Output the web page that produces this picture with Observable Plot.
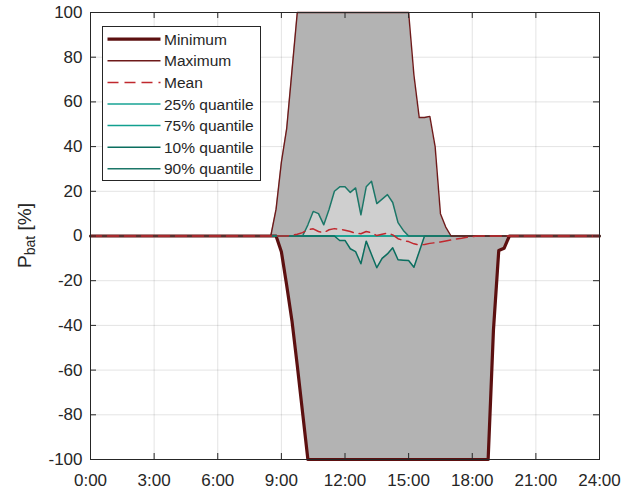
<!DOCTYPE html>
<html><head><meta charset="utf-8">
<script src="https://cdn.jsdelivr.net/npm/d3@7"></script>
<script src="https://cdn.jsdelivr.net/npm/@observablehq/plot@0.6"></script>
<style>body{margin:0;background:#fff}</style>
</head><body><div id="chart"></div>
<script>
// Tick positions and labels
const xTicks = [0, 3, 6, 9, 12, 15, 18, 21, 24];
const xTickLabels = ["0:00", "3:00", "6:00", "9:00", "12:00", "15:00", "18:00", "21:00", "24:00"];
const yTicks = [-100, -80, -60, -40, -20, 0, 20, 40, 60, 80, 100];

// Maximum
const maxHours  = [0, 8.5, 8.75, 9.0, 9.25, 9.5, 9.75, 15.0, 15.25, 15.5, 15.75, 16.0, 16.25, 16.5, 16.75, 17.0, 24];
const maxValues = [0, 0, 12, 33, 48, 74, 100, 100, 72, 53, 53, 53.5, 40, 10, 4, 0, 0];

// Minimum
const minHours  = [0, 8.75, 9.0, 9.25, 9.5, 9.75, 10.0, 10.25, 18.75, 19.0, 19.25, 19.5, 19.75, 24];
const minValues = [0, 0, -7, -22, -38, -58, -79, -100, -100, -42, -6.5, -5.5, 0, 0];

// Mean
const meanHours  = [0, 9.0, 9.25, 9.5, 9.75, 10.0, 10.25, 10.5, 10.75, 11.0, 11.25, 11.5, 11.75, 12.0, 12.25, 12.5, 12.75, 13.0, 13.25, 13.5, 13.75, 14.0, 14.25, 14.5, 14.75, 15.0, 15.25, 15.5, 15.75, 16.0, 16.25, 16.5, 16.75, 17.0, 17.25, 17.5, 17.75, 18.0, 18.25, 24];
const meanValues = [0, 0, 0, 0.3, 0.8, 1.5, 2.8, 3.2, 2, 1.5, 2.8, 3.3, 3, 2.6, 2, 1.2, 1, 2, 1.5, 0.2, 0.8, 1.3, 0.5, -1.2, -2, -2.5, -3.5, -4, -3.8, -3.3, -3, -2.7, -2.2, -1.8, -1.3, -1, -0.6, -0.3, 0, 0];

// 25% and 75% quantiles
const q25Hours  = [0, 24];
const q25Values = [0, 0];
const q75Hours  = [0, 24];
const q75Values = [0, 0];

// 10% quantile
const q10Hours  = [0, 11.5, 11.75, 12.0, 12.25, 12.5, 12.75, 13.0, 13.25, 13.5, 13.75, 14.0, 14.25, 14.5, 14.75, 15.0, 15.25, 15.5, 15.75, 24];
const q10Values = [0, 0, -2, -2, -5.7, -7, -12.4, -2.3, -8.3, -14.2, -10, -8, -5.3, -10.6, -10.8, -11, -14, -7, 0, 0];

// 90% quantile
const q90Hours  = [0, 10.0, 10.25, 10.5, 10.75, 11.0, 11.25, 11.5, 11.75, 12.0, 12.25, 12.5, 12.75, 13.0, 13.25, 13.5, 13.75, 14.0, 14.25, 14.5, 14.75, 15.0, 24];
const q90Values = [0, 0, 5, 11, 10, 5, 12, 20, 22, 22, 19.5, 21.5, 9.5, 22, 24.5, 14.5, 16.5, 18.5, 15, 6, 2.5, 0, 0];

const rows = (hs, vs) => hs.map((h, i) => ({h, v: vs[i]}));
const maxRows = rows(maxHours, maxValues);
const minRows = rows(minHours, minValues);
const meanRows = rows(meanHours, meanValues);
const q25Rows = rows(q25Hours, q25Values);
const q75Rows = rows(q75Hours, q75Values);
const q10Rows = rows(q10Hours, q10Values);
const q90Rows = rows(q90Hours, q90Values);

const W = 632, H = 489, mL = 90, mR = 33, mT = 12, mB = 30;
const plotW = W - mL - mR, plotH = H - mT - mB, tickLen = 6;
const ink = "#262626";
const colors = {
  min: "#5c1010", max: "#6e1a1a", mean: "#c0282e",
  q25: "#17a394", q75: "#12a08f", q10: "#0b6e5f", q90: "#1c7768"
};
const outer = "#b3b3b3", inner = "#cfcfcf";

const svg = Plot.plot({
  width: W, height: H,
  marginLeft: mL, marginRight: mR, marginTop: mT, marginBottom: mB,
  x: {domain: [0, 24], label: null},
  y: {domain: [-100, 100], label: null},
  style: {fontFamily: "'Liberation Sans', Arial, sans-serif", fontSize: "17px", color: ink, background: "#fff"},
  marks: [
    Plot.gridX(xTicks, {stroke: "#000", strokeOpacity: 0.11}),
    Plot.gridY(yTicks, {stroke: "#000", strokeOpacity: 0.11}),
    Plot.areaY(maxRows, {x: "h", y1: 0, y2: "v", fill: outer}),
    Plot.areaY(minRows, {x: "h", y1: "v", y2: 0, fill: outer}),
    Plot.areaY(q90Rows, {x: "h", y1: 0, y2: "v", fill: inner}),
    Plot.areaY(q10Rows, {x: "h", y1: "v", y2: 0, fill: inner}),
    Plot.line(minRows, {x: "h", y: "v", stroke: colors.min, strokeWidth: 3.2}),
    Plot.line(q25Rows, {x: "h", y: "v", stroke: colors.q25, strokeWidth: 1.5}),
    Plot.line(q75Rows, {x: "h", y: "v", stroke: colors.q75, strokeWidth: 1.5}),
    Plot.line(q10Rows, {x: "h", y: "v", stroke: colors.q10, strokeWidth: 1.5}),
    Plot.line(q90Rows, {x: "h", y: "v", stroke: colors.q90, strokeWidth: 1.5}),
    Plot.line(maxRows, {x: "h", y: "v", stroke: colors.max, strokeWidth: 1.4}),
    Plot.line(meanRows, {x: "h", y: "v", stroke: colors.mean, strokeWidth: 1.5, strokeDasharray: "11,6"}),
    Plot.frame({stroke: ink}),
    Plot.tickX(xTicks, {x: d => d, insetTop: plotH - tickLen, stroke: ink}),
    Plot.tickX(xTicks, {x: d => d, insetBottom: plotH - tickLen, stroke: ink}),
    Plot.tickY(yTicks, {y: d => d, insetRight: plotW - tickLen, stroke: ink}),
    Plot.tickY(yTicks, {y: d => d, insetLeft: plotW - tickLen, stroke: ink}),
    Plot.axisX(xTicks, {tickFormat: d => xTickLabels[xTicks.indexOf(d)], tickSize: 0, tickPadding: 14, label: null, fill: ink}),
    Plot.axisY(yTicks, {tickFormat: d => String(d), tickSize: 0, tickPadding: 8, label: null, fill: ink})
  ]
});

const s = d3.select(svg);

// Y axis label with subscript
const yl = s.append("text")
  .attr("transform", `translate(31,${mT + plotH / 2}) rotate(-90)`)
  .attr("text-anchor", "middle")
  .attr("fill", ink)
  .style("font-size", "19px");
yl.append("tspan").text("P");
yl.append("tspan").attr("dy", 4).style("font-size", "14px").text("bat");
yl.append("tspan").attr("dy", -4).text(" [%]");

// Legend
const legendItems = [
  {label: "Minimum", color: colors.min, width: 3.2, dash: null},
  {label: "Maximum", color: colors.max, width: 1.4, dash: null},
  {label: "Mean", color: colors.mean, width: 1.5, dash: "11,6"},
  {label: "25% quantile", color: colors.q25, width: 1.5, dash: null},
  {label: "75% quantile", color: colors.q75, width: 1.5, dash: null},
  {label: "10% quantile", color: colors.q10, width: 1.5, dash: null},
  {label: "90% quantile", color: colors.q90, width: 1.5, dash: null}
];
const lg = s.append("g").attr("transform", "translate(102.5,26.5)");
lg.append("rect").attr("width", 158).attr("height", 154)
  .attr("fill", "#fff").attr("stroke", ink).attr("stroke-width", 1);
legendItems.forEach((it, i) => {
  const cy = 12.7 + i * 21.6;
  lg.append("line").attr("x1", 5).attr("x2", 58).attr("y1", cy).attr("y2", cy)
    .attr("stroke", it.color).attr("stroke-width", it.width)
    .attr("stroke-dasharray", it.dash);
  lg.append("text").attr("x", 61.5).attr("y", cy).attr("dy", "0.36em")
    .attr("text-anchor", "start")
    .attr("fill", ink).style("font-size", "15.5px").text(it.label);
});

document.getElementById("chart").appendChild(svg);
</script>
</body></html>
